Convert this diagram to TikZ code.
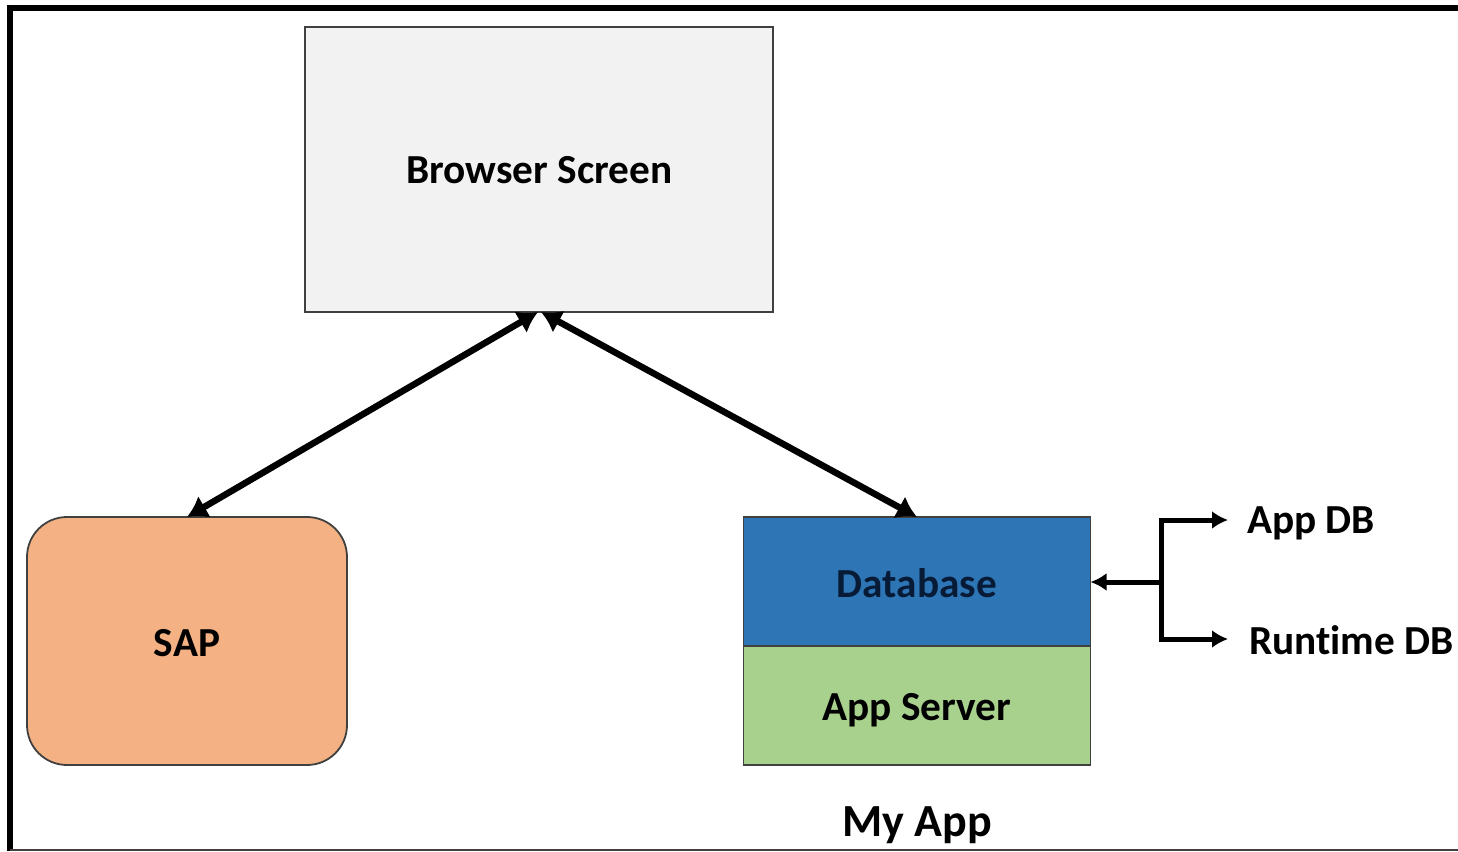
\documentclass[tikz,border=0pt]{standalone}
\usepackage{fontspec}
\setmainfont[Ligatures=NoCommon]{Carlito}
\usetikzlibrary{arrows.meta,calc}
\definecolor{boxgrey}{HTML}{F2F2F2}
\definecolor{sapfill}{HTML}{F4B183}
\definecolor{dbfill}{HTML}{2E75B6}
\definecolor{appfill}{HTML}{A9D18E}
\definecolor{linegrey}{HTML}{404040}
\definecolor{dbtext}{HTML}{071B36}
\tikzset{
  x=1pt,y=-1pt,
  boxstyle/.style={draw=linegrey,line width=1.8pt,inner sep=0pt,outer sep=0pt},
  label/.style={inner sep=0pt,outer sep=0pt,font=\fontsize{41.3}{45}\selectfont\bfseries,text=black},
  bigarrow/.style={line width=6.5pt,{Latex[length=20pt,width=25pt]}-{Latex[length=20pt,width=25pt]}},
  smallarrow/.style={line width=5pt,-{Latex[length=16pt,width=18pt]}},
}
\begin{document}
\begin{tikzpicture}
\useasboundingbox (0,0) rectangle (1458,851);
\fill[white] (0,0) rectangle (1458,851);
% frame
\draw[black,line width=6pt] (9.5,851) -- (9.5,8.5) -- (1458,8.5);
\draw[linegrey,line width=2pt] (9.5,850) -- (1458,850);
% boxes
\node[boxstyle,fill=boxgrey,minimum width=468pt,minimum height=285pt,anchor=north west] (browser) at (305,27) {};
\node[label] at (539.5,170.5) {Browser Screen};
\node[boxstyle,fill=sapfill,rounded corners=40pt,minimum width=320pt,minimum height=248pt,anchor=north west] (sap) at (27,517) {};
\node[label] at (187,643) {SAP};
\node[boxstyle,fill=dbfill,minimum width=347pt,minimum height=129pt,anchor=north west] (db) at (743.5,517) {};
\node[label,text=dbtext] at (917,583) {Database};
\node[boxstyle,fill=appfill,minimum width=347pt,minimum height=119pt,anchor=north west] (app) at (743.5,646) {};
\node[label] at (917,710) {App Server};
\node[label,font=\fontsize{46}{50}\selectfont\bfseries] at (917,825) {My App};
\node[label,anchor=west] (appdb) at (1247,523) {App DB};
\node[label,anchor=west] (rtdb) at (1249,640) {Runtime DB};
% connectors
\draw[bigarrow] (sap.north) -- ($(browser.south)+(-1,0)$);
\draw[bigarrow] (db.north) -- ($(browser.south)+(2,0)$);
\coordinate (junction) at (1161,582);
\draw[smallarrow] (junction) -- (db.east |- junction);
\draw[smallarrow,line join=miter] (junction) -- (1161,520) -- (1228,520);
\draw[smallarrow,line join=miter] (junction) -- (1161,639) -- (1228,639);
\end{tikzpicture}
\end{document}
